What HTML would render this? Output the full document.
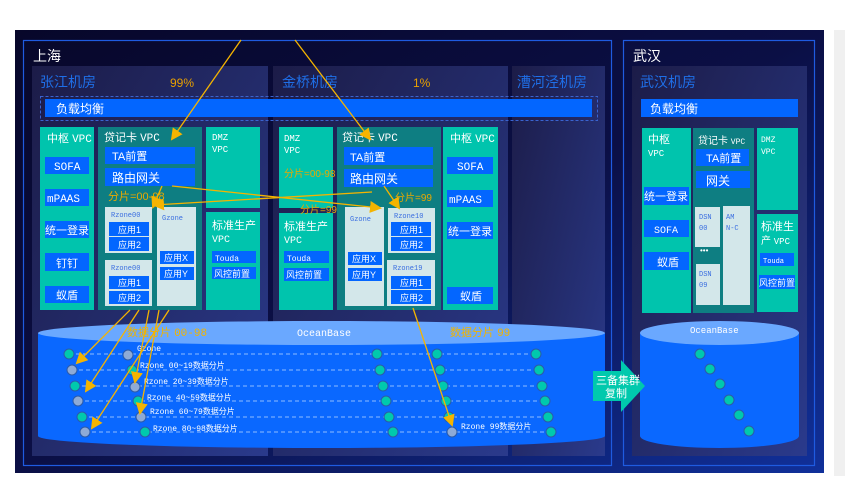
<!DOCTYPE html>
<html><head><meta charset="utf-8"><style>
html,body{margin:0;padding:0;background:#fff;}
svg{display:block;}
text{font-family:"Liberation Sans","Noto Sans CJK SC",sans-serif;}
.m{font-family:"Liberation Mono","Noto Sans CJK SC",monospace;}
</style></head><body>
<svg width="845" height="502" viewBox="0 0 845 502" xmlns="http://www.w3.org/2000/svg">
<defs>
<linearGradient id="bg" x1="0" y1="0" x2="1" y2="1">
<stop offset="0" stop-color="#07072a"/><stop offset="0.5" stop-color="#0b0f45"/><stop offset="1" stop-color="#10309a"/>
</linearGradient>
<linearGradient id="pn" x1="0" y1="0" x2="1" y2="1">
<stop offset="0" stop-color="#1c1c48"/><stop offset="1" stop-color="#2a3a8c"/>
</linearGradient>
<marker id="ah" markerWidth="8" markerHeight="8" refX="6" refY="4" orient="auto" markerUnits="userSpaceOnUse" viewBox="0 0 8 8">
<path d="M0,0 L8,4 L0,8 z" fill="#f5b400"/>
</marker>
<marker id="ah2" markerWidth="12" markerHeight="12" refX="10" refY="6" orient="auto" markerUnits="userSpaceOnUse" viewBox="0 0 12 12">
<path d="M0,0 L12,6 L0,12 z" fill="#f5b400"/>
</marker>
</defs>
<rect x="0" y="0" width="845" height="502" fill="#fff"/>
<rect x="834" y="30" width="11" height="446" fill="#f0f0f0"/>
<rect x="15" y="30" width="809" height="443" fill="url(#bg)"/>
<rect x="23.5" y="40.5" width="588" height="425" fill="none" stroke="#1f5be0" stroke-width="1.2"/>
<rect x="623.5" y="40.5" width="191" height="425" fill="none" stroke="#1f5be0" stroke-width="1.2"/>
<text x="33" y="61" fill="#fff" font-size="14">上海</text>
<text x="633" y="61" fill="#fff" font-size="14">武汉</text>

<rect x="32" y="66" width="236" height="390" fill="url(#pn)"/>
<rect x="273" y="66" width="235" height="390" fill="url(#pn)"/>
<rect x="512" y="66" width="93" height="390" fill="url(#pn)"/>
<rect x="632" y="66" width="175" height="390" fill="url(#pn)"/>

<text x="40" y="87" fill="#1f6fe8" font-size="14">张江机房</text>
<text x="170" y="87" fill="#e8a000" font-size="12">99%</text>
<text x="282" y="87" fill="#1f6fe8" font-size="14">金桥机房</text>
<text x="413" y="87" fill="#e8a000" font-size="12">1%</text>
<text x="517" y="87" fill="#1f6fe8" font-size="14">漕河泾机房</text>
<text x="640" y="87" fill="#1f6fe8" font-size="14">武汉机房</text>

<rect x="40.5" y="96.5" width="557" height="24" fill="none" stroke="#3a63d0" stroke-dasharray="3,2"/>
<rect x="45" y="99" width="547" height="18" fill="#0366ff"/>
<text x="56" y="113" fill="#fff" font-size="12">负载均衡</text>
<rect x="641" y="99" width="157" height="18" fill="#0366ff"/>
<text x="650" y="113" fill="#fff" font-size="12">负载均衡</text>

<!-- Zhangjiang -->
<rect x="40" y="127" width="54" height="183" fill="#00c4ad"/>
<text x="47" y="142" fill="#fff" font-size="11">中枢 <tspan class="m">VPC</tspan></text>
<g fill="#0366ff"><rect x="45" y="157" width="44" height="17"/><rect x="45" y="189" width="44" height="17"/><rect x="45" y="221" width="44" height="17"/><rect x="45" y="253" width="44" height="18"/><rect x="45" y="286" width="44" height="17"/></g>
<g fill="#fff" font-size="11"><text x="54" y="170" class="m">SOFA</text><text x="47" y="202" class="m">mPAAS</text><text x="45" y="234">统一登录</text><text x="56" y="267">钉钉</text><text x="56" y="299">蚁盾</text></g>

<rect x="98" y="127" width="104" height="183" fill="#0e7e82"/>
<text x="104" y="141" fill="#fff" font-size="11">贷记卡 <tspan class="m">VPC</tspan></text>
<rect x="105" y="147" width="90" height="17" fill="#0366ff"/><text x="112" y="160" fill="#fff" font-size="11">TA前置</text>
<rect x="105" y="168" width="90" height="18" fill="#0366ff"/><text x="112" y="182" fill="#fff" font-size="12">路由网关</text>
<text x="108" y="200" fill="#e8a800" font-size="11">分片=00-98</text>
<rect x="105" y="207" width="47" height="46" fill="#d3e7ea"/><text x="111" y="217" fill="#3a6ee0" font-size="7" class="m">Rzone00</text>
<rect x="109" y="222" width="40" height="14" fill="#0366ff"/><rect x="109" y="237" width="40" height="14" fill="#0366ff"/>
<text x="118" y="233" fill="#fff" font-size="9">应用1</text><text x="118" y="248" fill="#fff" font-size="9">应用2</text>
<rect x="105" y="260" width="47" height="46" fill="#d3e7ea"/><text x="111" y="270" fill="#3a6ee0" font-size="7" class="m">Rzone00</text>
<rect x="109" y="276" width="40" height="13" fill="#0366ff"/><rect x="109" y="291" width="40" height="13" fill="#0366ff"/>
<text x="118" y="286" fill="#fff" font-size="9">应用1</text><text x="118" y="301" fill="#fff" font-size="9">应用2</text>
<rect x="157" y="207" width="39" height="99" fill="#d3e7ea"/><text x="162" y="220" fill="#3a6ee0" font-size="7" class="m">Gzone</text>
<rect x="160" y="251" width="34" height="13" fill="#0366ff"/><rect x="160" y="267" width="34" height="13" fill="#0366ff"/>
<text x="164" y="261" fill="#fff" font-size="9">应用X</text><text x="164" y="277" fill="#fff" font-size="9">应用Y</text>

<rect x="206" y="127" width="54" height="81" fill="#00c4ad"/>
<text x="212" y="140" fill="#fff" font-size="9" class="m">DMZ</text><text x="212" y="152" fill="#fff" font-size="9" class="m">VPC</text>
<rect x="206" y="212" width="54" height="98" fill="#00c4ad"/>
<text x="212" y="229" fill="#fff" font-size="11">标准生产</text><text x="212" y="242" fill="#fff" font-size="10" class="m">VPC</text>
<rect x="212" y="251" width="44" height="12" fill="#0366ff"/><text x="215" y="261" fill="#fff" font-size="8" class="m">Touda</text>
<rect x="212" y="267" width="44" height="12" fill="#0366ff"/><text x="214" y="277" fill="#fff" font-size="9">风控前置</text>

<!-- Jinqiao -->
<rect x="279" y="127" width="54" height="81" fill="#00c4ad"/>
<text x="284" y="141" fill="#fff" font-size="9" class="m">DMZ</text><text x="284" y="153" fill="#fff" font-size="9" class="m">VPC</text>
<text x="284" y="177" fill="#e8a800" font-size="10">分片=00-98</text>
<rect x="279" y="213" width="54" height="97" fill="#00c4ad"/>
<text x="284" y="230" fill="#fff" font-size="11">标准生产</text><text x="284" y="243" fill="#fff" font-size="10" class="m">VPC</text>
<text x="300" y="213" fill="#e8a800" font-size="10">分片=99</text>
<rect x="284" y="251" width="45" height="12" fill="#0366ff"/><text x="287" y="261" fill="#fff" font-size="8" class="m">Touda</text>
<rect x="284" y="268" width="45" height="13" fill="#0366ff"/><text x="286" y="278" fill="#fff" font-size="9">风控前置</text>

<rect x="337" y="127" width="104" height="183" fill="#0e7e82"/>
<text x="342" y="141" fill="#fff" font-size="11">贷记卡 <tspan class="m">VPC</tspan></text>
<rect x="344" y="147" width="89" height="18" fill="#0366ff"/><text x="350" y="161" fill="#fff" font-size="11">TA前置</text>
<rect x="344" y="169" width="89" height="18" fill="#0366ff"/><text x="350" y="183" fill="#fff" font-size="12">路由网关</text>
<text x="395" y="201" fill="#e8a800" font-size="10">分片=99</text>
<rect x="345" y="207" width="39" height="99" fill="#d3e7ea"/><text x="350" y="221" fill="#3a6ee0" font-size="7" class="m">Gzone</text>
<rect x="348" y="252" width="34" height="13" fill="#0366ff"/><rect x="348" y="268" width="34" height="13" fill="#0366ff"/>
<text x="352" y="262" fill="#fff" font-size="9">应用X</text><text x="352" y="278" fill="#fff" font-size="9">应用Y</text>
<rect x="388" y="208" width="47" height="45" fill="#d3e7ea"/><text x="394" y="218" fill="#3a6ee0" font-size="7" class="m">Rzone10</text>
<rect x="391" y="222" width="40" height="14" fill="#0366ff"/><rect x="391" y="237" width="40" height="14" fill="#0366ff"/>
<text x="400" y="233" fill="#fff" font-size="9">应用1</text><text x="400" y="248" fill="#fff" font-size="9">应用2</text>
<rect x="387" y="260" width="48" height="46" fill="#d3e7ea"/><text x="393" y="270" fill="#3a6ee0" font-size="7" class="m">Rzone19</text>
<rect x="391" y="276" width="40" height="13" fill="#0366ff"/><rect x="391" y="290" width="40" height="14" fill="#0366ff"/>
<text x="400" y="286" fill="#fff" font-size="9">应用1</text><text x="400" y="301" fill="#fff" font-size="9">应用2</text>

<rect x="443" y="127" width="55" height="183" fill="#00c4ad"/>
<text x="450" y="142" fill="#fff" font-size="11">中枢 <tspan class="m">VPC</tspan></text>
<g fill="#0366ff"><rect x="447" y="157" width="46" height="17"/><rect x="447" y="190" width="46" height="17"/><rect x="447" y="222" width="46" height="17"/><rect x="447" y="287" width="46" height="17"/></g>
<g fill="#fff" font-size="11"><text x="457" y="170" class="m">SOFA</text><text x="449" y="203" class="m">mPAAS</text><text x="448" y="235">统一登录</text><text x="460" y="300">蚁盾</text></g>

<!-- Wuhan VPCs -->
<rect x="642" y="128" width="49" height="185" fill="#00c4ad"/>
<text x="648" y="143" fill="#fff" font-size="11">中枢</text><text x="648" y="156" fill="#fff" font-size="9" class="m">VPC</text>
<g fill="#0366ff"><rect x="644" y="187" width="45" height="18"/><rect x="644" y="220" width="45" height="17"/><rect x="644" y="252" width="45" height="18"/></g>
<g fill="#fff" font-size="11"><text x="644" y="200">统一登录</text><text x="654" y="233" class="m" font-size="10">SOFA</text><text x="657" y="266">蚁盾</text></g>
<rect x="693" y="128" width="61" height="185" fill="#0e7e82"/>
<text x="698" y="144" fill="#fff" font-size="10">贷记卡 <tspan class="m" font-size="8">VPC</tspan></text>
<rect x="696" y="149" width="53" height="17" fill="#0366ff"/><text x="706" y="162" fill="#fff" font-size="11">TA前置</text>
<rect x="696" y="171" width="54" height="17" fill="#0366ff"/><text x="706" y="185" fill="#fff" font-size="12">网关</text>
<rect x="695" y="207" width="25" height="40" fill="#d3e7ea"/><text x="699" y="219" fill="#3a6ee0" font-size="7" class="m">DSN</text><text x="699" y="230" fill="#3a6ee0" font-size="7" class="m">00</text>
<text x="700" y="253" fill="#fff" font-size="8">•••</text>
<rect x="696" y="264" width="24" height="41" fill="#d3e7ea"/><text x="699" y="276" fill="#3a6ee0" font-size="7" class="m">DSN</text><text x="699" y="287" fill="#3a6ee0" font-size="7" class="m">09</text>
<rect x="723" y="206" width="27" height="99" fill="#d3e7ea"/><text x="726" y="219" fill="#3a6ee0" font-size="7" class="m">AM</text><text x="726" y="230" fill="#3a6ee0" font-size="7" class="m">N-C</text>
<rect x="757" y="128" width="41" height="82" fill="#00c4ad"/>
<text x="761" y="142" fill="#fff" font-size="8" class="m">DMZ</text><text x="761" y="154" fill="#fff" font-size="8" class="m">VPC</text>
<rect x="757" y="214" width="41" height="98" fill="#00c4ad"/>
<text x="761" y="230" fill="#fff" font-size="11">标准生</text><text x="761" y="244" fill="#fff" font-size="10">产 <tspan class="m" font-size="9">VPC</tspan></text>
<rect x="760" y="253" width="34" height="13" fill="#0366ff"/><text x="763" y="263" fill="#fff" font-size="7" class="m">Touda</text>
<rect x="759" y="275" width="36" height="14" fill="#0366ff"/><text x="759" y="286" fill="#fff" font-size="9">风控前置</text>

<!-- Shanghai cylinder -->
<path d="M38,333 L38,436 A283,12 0 0 0 605,436 L605,333 Z" fill="#0a68ff"/>
<ellipse cx="321.5" cy="333" rx="283.5" ry="12" fill="#6aa8ff"/>
<text x="127" y="336" fill="#f0b400" font-size="11">数据分片 <tspan class="m">00-98</tspan></text>
<text x="297" y="336" fill="#fff" font-size="10" class="m">OceanBase</text>
<text x="450" y="336" fill="#f0b400" font-size="11">数据分片 <tspan class="m">99</tspan></text>
<g stroke="#9cc4ff" stroke-width="1" stroke-dasharray="4,3" opacity="0.9">
<line x1="69" y1="354" x2="536" y2="354"/><line x1="72" y1="370" x2="539" y2="370"/><line x1="75" y1="386" x2="542" y2="386"/>
<line x1="78" y1="401" x2="545" y2="401"/><line x1="82" y1="417" x2="548" y2="417"/><line x1="85" y1="432" x2="551" y2="432"/>
</g>
<g stroke="#2c5aa8" stroke-width="1">
<g fill="#00c9ad">
<circle cx="69" cy="354" r="5"/><circle cx="132" cy="370" r="5"/><circle cx="75" cy="386" r="5"/><circle cx="138" cy="401" r="5"/><circle cx="82" cy="417" r="5"/><circle cx="145" cy="432" r="5"/>
<circle cx="377" cy="354" r="5"/><circle cx="380" cy="370" r="5"/><circle cx="383" cy="386" r="5"/><circle cx="386" cy="401" r="5"/><circle cx="389" cy="417" r="5"/><circle cx="393" cy="432" r="5"/>
<circle cx="437" cy="354" r="5"/><circle cx="440" cy="370" r="5"/><circle cx="443" cy="386" r="5"/><circle cx="446" cy="401" r="5"/><circle cx="449" cy="417" r="5"/>
<circle cx="536" cy="354" r="5"/><circle cx="539" cy="370" r="5"/><circle cx="542" cy="386" r="5"/><circle cx="545" cy="401" r="5"/><circle cx="548" cy="417" r="5"/><circle cx="551" cy="432" r="5"/>
</g>
<g fill="#8eaad6">
<circle cx="128" cy="355" r="5"/><circle cx="72" cy="370" r="5"/><circle cx="135" cy="387" r="5"/><circle cx="78" cy="401" r="5"/><circle cx="141" cy="417" r="5"/><circle cx="85" cy="432" r="5"/><circle cx="452" cy="432" r="5"/>
</g>
</g>
<g fill="#fff" font-size="8">
<text x="137" y="351" class="m">Gzone</text>
<text x="140" y="368"><tspan class="m">Rzone 00~19</tspan>数据分片</text>
<text x="144" y="384"><tspan class="m">Rzone 20~39</tspan>数据分片</text>
<text x="147" y="400"><tspan class="m">Rzone 40~59</tspan>数据分片</text>
<text x="150" y="414"><tspan class="m">Rzone 60~79</tspan>数据分片</text>
<text x="153" y="431"><tspan class="m">Rzone 80~98</tspan>数据分片</text>
<text x="461" y="429"><tspan class="m">Rzone 99</tspan>数据分片</text>
</g>

<!-- Wuhan cylinder -->
<path d="M640,333 L640,436 A79.5,12 0 0 0 799,436 L799,333 Z" fill="#0a68ff"/>
<ellipse cx="719.5" cy="333" rx="79.5" ry="12" fill="#6aa8ff"/>
<text x="690" y="333" fill="#fff" font-size="9" class="m">OceanBase</text>
<g fill="#00c9ad" stroke="#2c5aa8">
<circle cx="700" cy="354" r="5"/><circle cx="710" cy="369" r="5"/><circle cx="720" cy="384" r="5"/><circle cx="729" cy="400" r="5"/><circle cx="739" cy="415" r="5"/><circle cx="749" cy="431" r="5"/>
</g>

<!-- replication arrow -->
<path d="M593,371 L621,371 L621,360 L645,386 L621,412 L621,401 L593,401 Z" fill="#00c9ad"/>
<text x="596" y="384" fill="#fff" font-size="11">三备集群</text>
<text x="605" y="397" fill="#fff" font-size="11">复制</text>

<!-- orange arrows -->
<g stroke="#f5b400" stroke-width="1.3" fill="none">
<line x1="241" y1="40" x2="172" y2="139" marker-end="url(#ah2)"/>
<line x1="295" y1="40" x2="370" y2="139" marker-end="url(#ah2)"/>
<line x1="162" y1="186" x2="153" y2="207" marker-end="url(#ah2)"/>
<line x1="172" y1="186" x2="380" y2="208" marker-end="url(#ah2)"/>
<line x1="372" y1="192" x2="154" y2="205" marker-end="url(#ah2)"/>
<line x1="384" y1="186" x2="399" y2="208" marker-end="url(#ah2)"/>
<line x1="413" y1="308" x2="452" y2="425" marker-end="url(#ah2)"/>
<line x1="130" y1="310" x2="77" y2="363" marker-end="url(#ah2)"/>
<line x1="139" y1="310" x2="86" y2="391" marker-end="url(#ah2)"/>
<line x1="149" y1="310" x2="135" y2="382" marker-end="url(#ah2)"/>
<line x1="159" y1="310" x2="140" y2="413" marker-end="url(#ah2)"/>
<line x1="169" y1="310" x2="92" y2="428" marker-end="url(#ah2)"/>
</g>
</svg>
</body></html>
